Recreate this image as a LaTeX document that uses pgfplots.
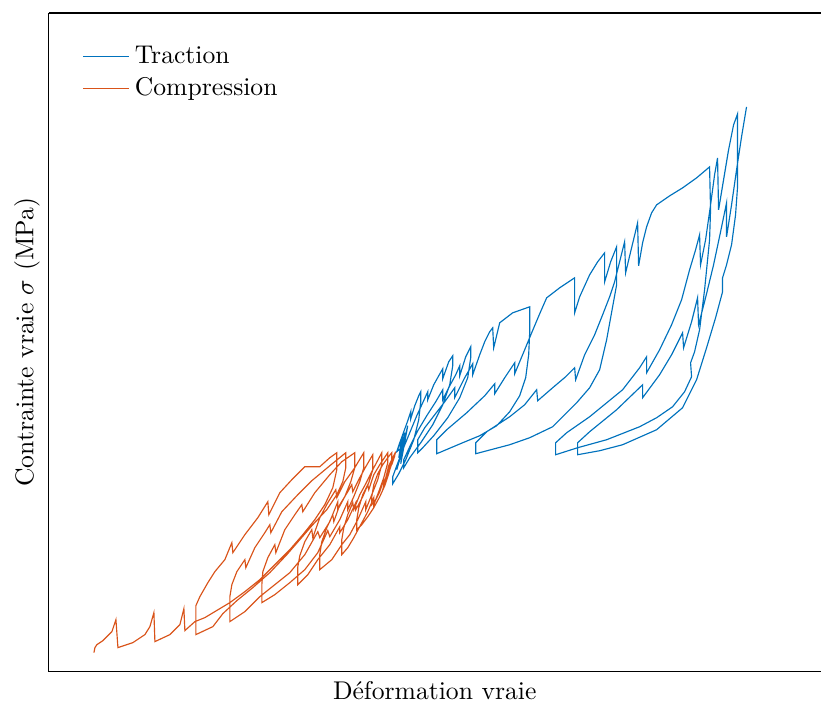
\documentclass[border=0pt]{standalone}
\usepackage{pgfplots}
\pgfplotsset{compat=1.18}
\definecolor{traction}{RGB}{0,114,189}
\definecolor{compression}{RGB}{217,83,25}
\begin{document}
\begin{tikzpicture}
\begin{axis}[
  scale only axis,
  width=301.08pt, height=257.01pt,
  xmin=49, xmax=821, ymin=13, ymax=672,
  y dir=reverse,
  axis x line*=box, axis y line*=left,
  xtick=\empty, ytick=\empty,
  clip=false,
  xlabel={D\'eformation vraie},
  ylabel={Contrainte vraie $\sigma$ (MPa)},
  xlabel style={at={(axis description cs:0.5,-0.0288)}, anchor=center},
  ylabel style={at={(axis description cs:-0.0285,0.5)}, anchor=center},
  legend cell align=left,
  legend image code/.code={\draw[#1] (0cm,0cm) -- (0.63cm,0cm);},
  legend style={draw=none, fill=none, at={(axis description cs:0.033,0.966)}, anchor=north west},
]
% traction
\addplot[traction, line width=0.45pt] coordinates {
(397,452)(402,440)(399,458)(405,433)(401,464)(408,426)(397,470)(404,446)
(397,452)(400,443)(404,432)(408,421)(411,412)(411,419)(415,406)(419,396)(421,392)
(421,402)(419,420)(414,440)(406,460)(399,474)(393,484)
(393,477)(397,466)(403,450)(410,433)(417,416)(423,403)(428,392)(428,400)(434,385)(439,376)(443,369)(443,379)(449,362)(453,356)
(453,366)(450,385)(443,405)(433,425)(421,443)(410,458)(404,468)
(404,460)(410,447)(418,431)(427,416)(436,402)(443,390)(443,400)(450,386)(456,375)(460,366)(460,376)(466,357)(471,347)
(471,358)(468,378)(460,398)(448,418)(434,436)(423,448)(418,453)
(418,440)(425,428)(435,415)(445,402)(455,388)(455,398)(465,378)(473,364)(473,375)(480,355)(485,342)(490,332)(493,328)
(494,348)(500,323)(513,313)(530,307)
(530,333)(529,355)(526,378)(520,396)(510,412)(497,426)(480,436)(463,443)(437,454)
(437,440)(447,430)(467,413)(485,396)(495,384)(495,394)(505,378)(515,363)(515,374)(525,350)(532,333)(540,314)(547,298)(560,288)(575,278)
(575,313)(580,297)(590,275)(598,262)(605,253)
(605,282)(611,262)(617,247)
(617,285)(613,307)(607,340)(600,370)(590,388)(577,403)(553,427)(530,438)(510,445)(476,454)
(476,443)(487,432)(510,417)(525,405)(537,390)(538,401)(553,388)(566,377)(575,368)(576,380)(585,355)(595,335)(603,315)(610,297)(615,282)(620,262)(625,242)(626,273)(631,252)(638,223)(639,266)(643,243)(647,227)(652,213)(657,205)(670,196)(683,188)(697,178)(710,167)
(711,210)(710,240)(705,290)(700,330)(695,352)(691,363)(692,377)(685,392)(673,407)(657,418)(640,427)(607,440)(578,448)(556,455)
(556,443)(567,433)(590,417)(623,390)(640,368)(647,357)(647,373)(660,350)(672,325)(682,300)(690,270)(696,250)(700,235)(701,265)(706,240)(711,205)(715,175)(718,158)(719,210)(724,180)(729,150)(734,125)(738,114)
(738,187)(736,215)(732,245)(727,265)(723,278)(723,292)(716,318)(707,348)(697,380)(683,408)(657,430)(623,445)(600,451)(578,455)
(578,443)(590,432)(617,410)(643,385)(643,398)(660,375)(672,355)(683,333)(684,348)(692,322)(698,298)(699,325)(706,298)(714,265)(721,232)(727,203)(727,237)(732,205)(737,170)(742,137)(747,107)
};
\addlegendentry{Traction}
% compression
\addplot[compression, line width=0.45pt] coordinates {
(396,452)(392,465)(395,456)(389,472)(394,457)(387,478)(393,460)(385,484)(391,462)(383,490)(389,466)
(396,452)(393,461)(390,470)(387,478)(384,486)(384,480)(380,492)(376,500)(372,505)
(372,497)(374,485)(378,474)(383,465)(388,458)(392,453)
(392,462)(389,474)(385,486)(380,497)(374,508)(368,517)(362,525)(357,530)
(357,520)(359,508)(363,495)(368,485)(369,490)(374,475)(380,465)(388,453)
(388,463)(384,478)(379,492)(374,505)(374,498)(368,512)(361,525)(354,538)(348,548)(342,555)
(342,540)(344,528)(348,515)(353,503)(354,510)(360,495)(366,484)(373,470)(382,453)
(382,465)(378,480)(372,495)(366,510)(366,502)(358,520)(350,535)(342,545)(332,560)(320,570)
(320,555)(322,542)(327,528)(333,515)(334,522)(340,505)(348,492)(352,485)(353,492)(360,478)(366,467)(373,455)
(373,470)(369,483)(363,497)(356,510)(356,503)(348,520)(340,533)(340,527)(330,545)(318,560)(308,575)(298,585)
(298,567)(300,556)(305,542)(312,530)(313,538)(320,518)(328,503)(336,490)(337,498)(345,482)(355,468)(364,453)
(364,468)(360,482)(354,497)(348,510)(348,502)(340,520)(330,537)(328,531)(318,553)(305,570)(290,583)(275,595)(262,603)
(262,585)(263,572)(268,558)(275,545)(276,553)(285,530)(295,515)(302,505)(303,512)(315,493)(330,475)(342,462)(355,453)
(355,468)(351,482)(345,497)(338,510)(338,502)(330,522)(320,538)(318,532)(305,555)(290,573)(275,585)(260,597)(245,612)(230,622)
(230,597)(232,585)(237,572)(245,560)(246,568)(255,548)(265,533)(270,525)(271,533)(282,512)(298,495)(312,481)(330,466)(346,453)
(346,468)(343,482)(337,495)(327,510)(313,525)(300,540)(287,555)(270,573)(253,588)(237,601)(223,614)(213,627)(196,635)
(196,606)(200,597)(208,583)(215,572)(225,560)(232,543)(233,553)(245,535)(258,518)(268,502)(269,515)(280,493)(292,480)(305,467)(320,467)(330,458)(337,453)
(337,470)(333,488)(325,505)(315,520)(303,535)(290,550)(275,565)(260,580)(245,592)(230,603)(215,612)(205,618)(195,622)(185,631)
(184,609)(180,625)(170,635)(155,642)
(154,613)(150,627)(145,635)(133,643)(118,648)
(116,620)(112,632)(103,641)(97,645)(95,648)(94,653)
};
\addlegendentry{Compression}
\path (axis cs:0,0) (axis cs:821,706);
\end{axis}
\end{tikzpicture}
\end{document}
